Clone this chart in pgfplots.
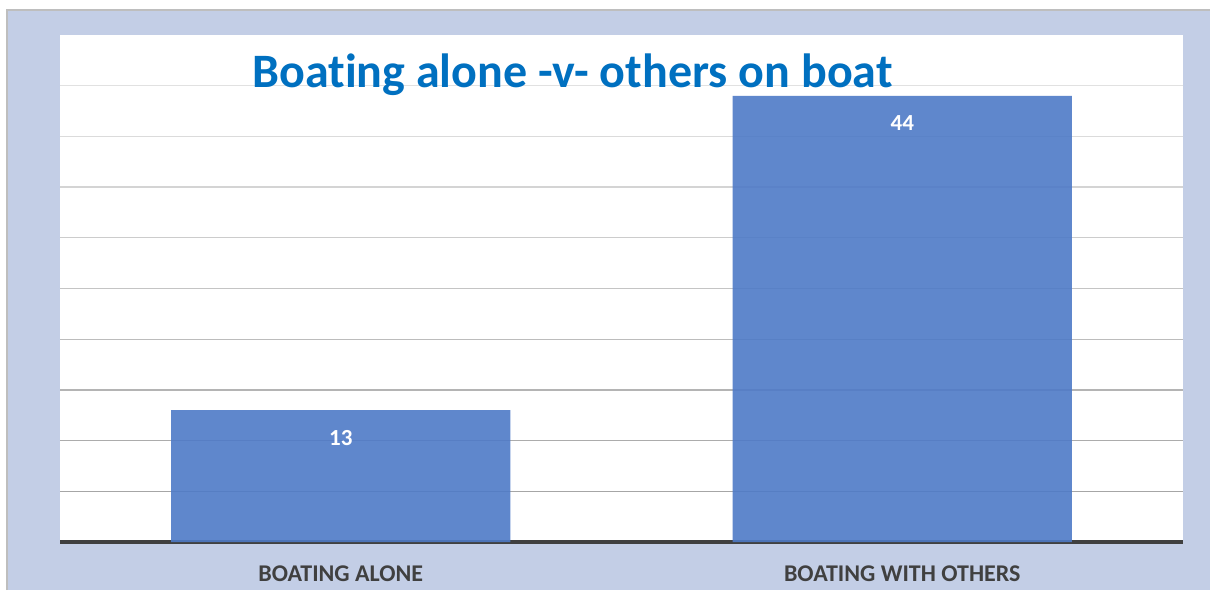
\documentclass[border=0pt]{standalone}
\usepackage{pgfplots}
\pgfplotsset{compat=1.18}
\usepackage{fontspec}
\setmainfont[Ligatures={NoCommon}]{Carlito}
\definecolor{bgblue}{HTML}{C3CEE6}
\definecolor{titleblue}{HTML}{0070C0}
\definecolor{barblue}{HTML}{4E7AC7}
\definecolor{labgray}{HTML}{404040}
\definecolor{bordergray}{HTML}{BEBEBE}
\begin{document}
\begin{tikzpicture}[x=1pt,y=1pt]
% background frame
\fill[white] (-60,-48) rectangle (1150,542);
\fill[bgblue] (-52,-48) rectangle (1150,531);
\draw[bordergray,line width=1.5pt] (-52.75,-48) -- (-52.75,531.75) -- (1150,531.75);
\fill[white] (0,0) rectangle (1123,507);
\begin{axis}[
  at={(0,0)}, anchor=south west,
  scale only axis,
  width=1123pt, height=507pt,
  xmin=-0.5, xmax=1.5,
  ymin=0, ymax=50,
  xtick={0,1},
  xticklabels={BOATING ALONE, BOATING WITH OTHERS},
  ytick=\empty,
  separate axis lines,
  axis x line*=bottom,
  axis y line*=left,
  y axis line style={draw=none},
  x axis line style={line width=3.6pt, color=labgray},
  major tick length=0pt,
  xticklabel style={font=\bfseries\fontsize{24}{28}\selectfont, text=labgray, anchor=base, yshift=-39pt},
  /pgf/number format/assume math mode=true,
  clip=false,
]
\draw[color={rgb,255:red,166;green,166;blue,166},line width=1.3pt] (axis cs:-0.5,5) -- (axis cs:1.5,5);
\draw[color={rgb,255:red,172;green,172;blue,172},line width=1.3pt] (axis cs:-0.5,10) -- (axis cs:1.5,10);
\draw[color={rgb,255:red,180;green,180;blue,180},line width=1.3pt] (axis cs:-0.5,15) -- (axis cs:1.5,15);
\draw[color={rgb,255:red,188;green,188;blue,188},line width=1.3pt] (axis cs:-0.5,20) -- (axis cs:1.5,20);
\draw[color={rgb,255:red,196;green,196;blue,196},line width=1.3pt] (axis cs:-0.5,25) -- (axis cs:1.5,25);
\draw[color={rgb,255:red,204;green,204;blue,204},line width=1.3pt] (axis cs:-0.5,30) -- (axis cs:1.5,30);
\draw[color={rgb,255:red,212;green,212;blue,212},line width=1.3pt] (axis cs:-0.5,35) -- (axis cs:1.5,35);
\draw[color={rgb,255:red,219;green,219;blue,219},line width=1.3pt] (axis cs:-0.5,40) -- (axis cs:1.5,40);
\draw[color={rgb,255:red,225;green,225;blue,225},line width=1.3pt] (axis cs:-0.5,45) -- (axis cs:1.5,45);
\addplot[ybar, bar width=339pt, fill=barblue, fill opacity=0.9, draw=none,
  nodes near coords,
  every node near coord/.append style={anchor=base, yshift=-35pt, text=white, text opacity=1,
    font=\bfseries\fontsize{23}{27}\selectfont}]
  coordinates {(0,13) (1,44)};
\end{axis}
\node[anchor=base, text=titleblue, font=\bfseries\fontsize{48}{57}\selectfont] at (512.5,454) {Boating alone -v- others on boat};
\pgfresetboundingbox
\useasboundingbox (-60,-48) rectangle (1150,542);
\end{tikzpicture}
\end{document}
